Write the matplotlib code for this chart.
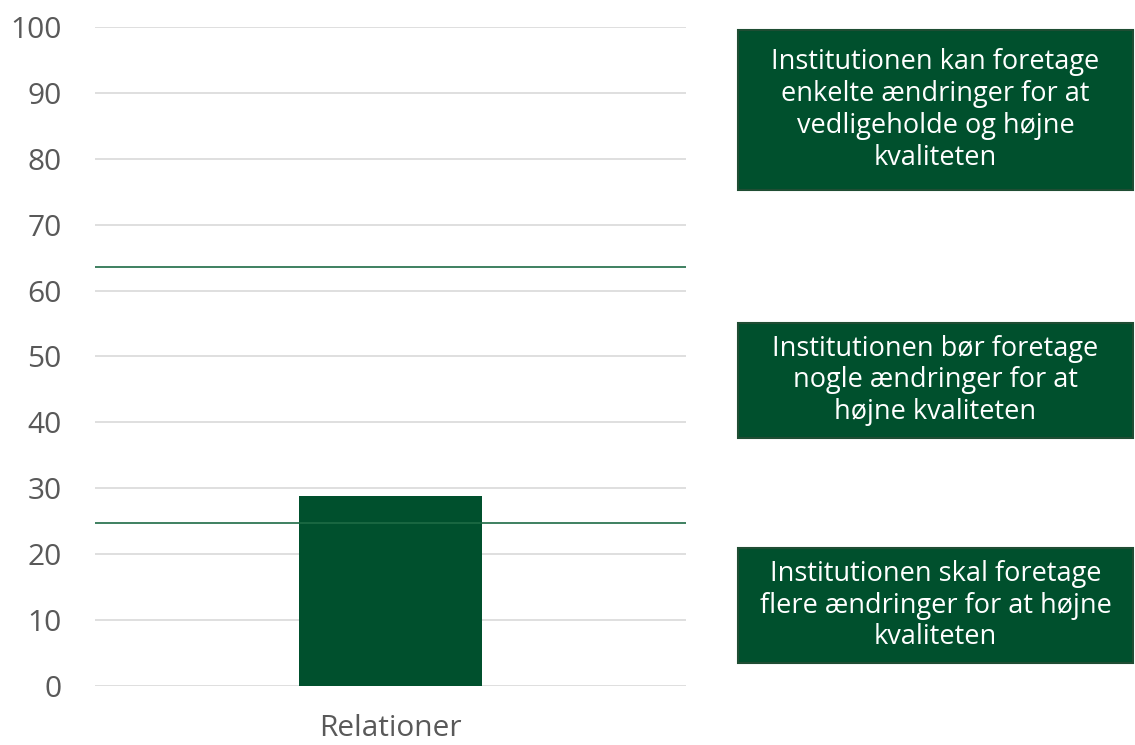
import matplotlib.pyplot as plt
from matplotlib.patches import Rectangle

plt.rcParams['font.family'] = ['Open Sans', 'DejaVu Sans']

categories = ["Relationer"]
values = [28.8]
upper_limit = 63.6
lower_limit = 24.7
y_ticks = [0, 10, 20, 30, 40, 50, 60, 70, 80, 90, 100]
box_texts = [
    "Institutionen kan foretage\nenkelte ændringer for at\nvedligeholde og højne\nkvaliteten",
    "Institutionen bør foretage\nnogle ændringer for at\nhøjne kvaliteten",
    "Institutionen skal foretage\nflere ændringer for at højne\nkvaliteten",
]

green = "#00502D"

fig = plt.figure(figsize=(11.35, 7.45), dpi=100)
ax = fig.add_axes([0.0837, 0.0792, 0.5207, 0.8846])

ax.bar(categories, values, width=0.31, color=green, zorder=3)
ax.axhline(upper_limit, color="#1E6B45", linewidth=1.2, zorder=4)
ax.axhline(lower_limit, color="#1E6B45", linewidth=1.2, zorder=4)

ax.set_xlim(-0.5, 0.5)
ax.set_ylim(0, 100)
ax.set_yticks(y_ticks)
ax.grid(axis="y", color="#D9D9D9", linewidth=1.2, zorder=0)
for s in ax.spines.values():
    s.set_visible(False)
ax.tick_params(axis="both", length=0, labelsize=21.5, labelcolor="#595959")
ax.tick_params(axis="y", pad=24)
ax.tick_params(axis="x", pad=20)

# text boxes on the right (figure pixel coords -> fraction)
W, H = 1135, 745
boxes = [(30, 190), (323, 438), (548, 663)]
for (top, bottom), txt in zip(boxes, box_texts):
    x0 = 738 / W
    y0 = 1 - bottom / H
    h = (bottom - top) / H
    w = (1133 - 738) / W
    fig.patches.append(Rectangle((x0, y0), w, h, transform=fig.transFigure,
                                 facecolor=green, edgecolor="#1F4D33", linewidth=1.5))
    fig.text(x0 + w / 2, y0 + h / 2, txt, ha="center", va="center",
             color="white", fontsize=19.5, linespacing=1.18)

fig.savefig("out.png", dpi=100)
